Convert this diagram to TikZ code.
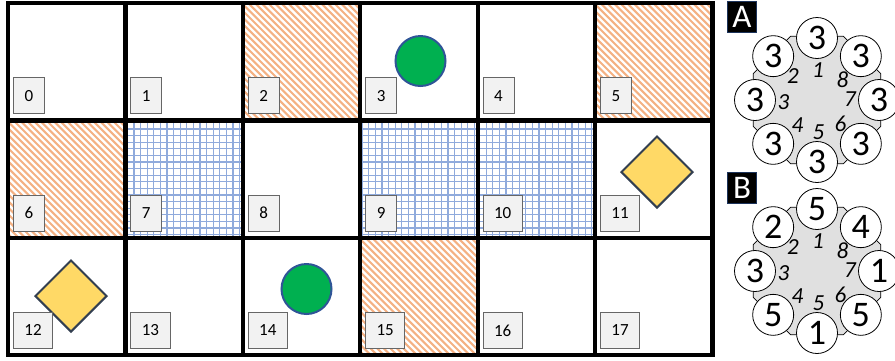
\documentclass[tikz,border=0pt]{standalone}
\usepackage{fontspec}
\setmainfont{Carlito}
\usepackage{tikz}
\usetikzlibrary{shapes.geometric,calc}
\definecolor{hatchorange}{HTML}{F4B183}
\definecolor{meshblue}{HTML}{8FAADC}
\definecolor{dotgreen}{HTML}{00B050}
\definecolor{dotblue}{HTML}{2F5597}
\definecolor{gemyellow}{HTML}{FFD966}
\definecolor{gemedge}{HTML}{333F50}
\definecolor{boxgray}{HTML}{F2F2F2}
\definecolor{hubgray}{HTML}{E0E0E0}

\begin{document}
\begin{tikzpicture}[x=1pt,y=-1pt,
  numbox/.style={draw=gray!80!black,fill=boxgray,line width=0.8pt,minimum height=36pt,minimum width=31pt,inner xsep=11pt,font=\fontsize{17}{17}\selectfont},
  hatchline/.style={hatchorange,line width=2.1pt},
  meshline/.style={meshblue,line width=1.1pt},
  board/.style={line width=4.2pt,line cap=rect},
  token/.style={circle,fill=dotgreen,draw=dotblue,line width=2pt,minimum size=50pt,inner sep=0pt},
  gem/.style={diamond,fill=gemyellow,draw=gemedge,line width=2pt,minimum size=72pt,inner sep=0pt},
  panelmark/.style={fill=black,draw=dotblue!60!black,text=white,minimum width=29pt,minimum height=31pt,inner sep=0pt,font=\fontsize{33}{33}\selectfont},
  hub/.style={regular polygon,regular polygon sides=8,minimum size=138pt,fill=hubgray,draw=black,line width=0.8pt,inner sep=0pt},
  seat/.style={circle,draw=black,fill=white,line width=0.8pt,minimum size=41pt,inner sep=0pt,font=\fontsize{36}{36}\selectfont},
  slotnum/.style={inner sep=0pt,font=\itshape\fontsize{23}{23}\selectfont}]
  \useasboundingbox (0,0) rectangle (895,360);

  \foreach \c/\r in {2/0,5/0,0/1,3/2}{
    \begin{scope}
      \clip (8+117.4*\c,3+117.4*\r) rectangle ++(117.4,117.4);
      \foreach \d in {-120,-113.4,...,120}
        \draw[hatchline] (8+117.4*\c+\d,3+117.4*\r) -- ++(120,120);
    \end{scope}
  }
  \foreach \c/\r in {1/1,3/1,4/1}{
    \begin{scope}
      \clip (8+117.4*\c,3+117.4*\r) rectangle ++(117.4,117.4);
      \foreach \d in {2,8.6,...,118}{
        \draw[meshline] (8+117.4*\c+\d,3+117.4*\r) -- ++(0,117.4);
        \draw[meshline] (8+117.4*\c,3+117.4*\r+\d) -- ++(117.4,0);
      }
    \end{scope}
  }

  \draw[board] (8,3) rectangle (712.4,355.2);
  \foreach \c in {1,...,5}
    \draw[board] (8+117.4*\c,3) -- (8+117.4*\c,355.2);
  \foreach \r in {1,2}
    \draw[board] (8,3+117.4*\r) -- (712.4,3+117.4*\r);

  \node[token] (token3) at (420.5,61) {};
  \node[token] (token14) at (306.5,289) {};
  \node[gem] (gem11) at (657,172) {};
  \node[gem] (gem12) at (71,296) {};

  \foreach \n in {0,...,17}{
    \pgfmathtruncatemacro\c{mod(\n,6)}
    \pgfmathtruncatemacro\r{div(\n,6)}
    \node[numbox,anchor=south west] (lbl\n) at (13+117.4*\c,114+117.4*\r) {\n};
  }

  \foreach \p/\cy/\vals in {A/100/{3,3,3,3,3,3,3,3},B/271/{5,2,3,5,1,5,1,4}}{
    \node[panelmark] (mark\p) at (742,\cy-83) {\p};
    \node[hub] (hub\p) at (817,\cy) {};
    \foreach \v [count=\k from 0] in \vals
      \node[seat] (seat\p\k) at ($(hub\p.center)+(-90-45*\k:62)$) {\v};
    \foreach \t/\dx/\dy in {1/1/-30,2/-24/-23.5,3/-33.5/2.5,4/-19.5/25.5,5/1.5/32.5,6/23.5/23.5,7/33/-0.5,8/25.5/-20}
      \node[slotnum] (slot\p\t) at ($(hub\p.center)+(\dx,\dy)$) {\t};
  }
\end{tikzpicture}
\end{document}
